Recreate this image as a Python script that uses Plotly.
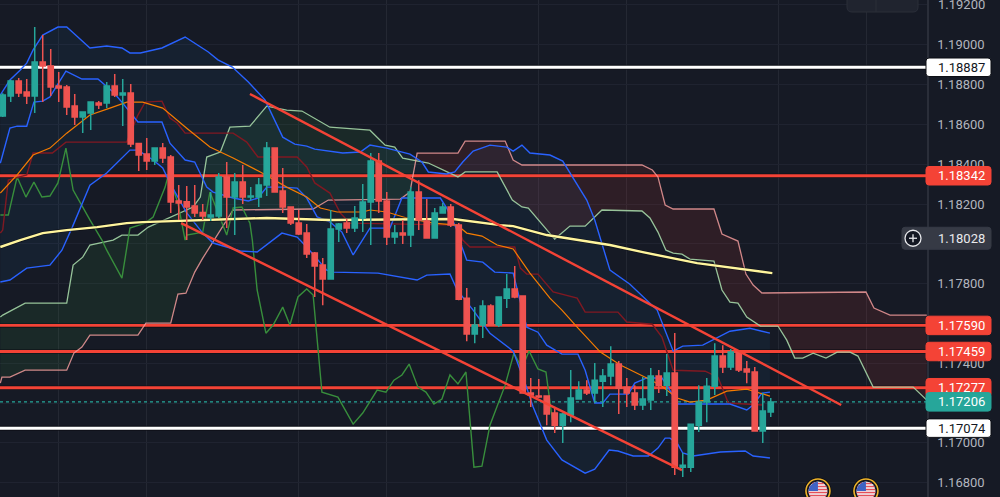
import math
import plotly.graph_objects as go

# ---------- candles (bar index is implicit) ----------
OPEN = [1.18642,1.18743,1.18818,1.18763,1.18743,1.18913,1.18893,1.18793,1.18788,1.18692,
        1.18637,1.18657,1.18707,1.18707,1.18793,1.18748,1.18758,1.18504,1.18451,1.18416,
        1.18481,1.18436,1.18215,1.18212,1.18190,1.18157,1.18135,1.18140,1.18336,1.18235,
        1.18310,1.18235,1.18235,1.18295,1.18481,1.18265,1.18185,1.18104,1.18054,1.17954,
        1.17893,1.17823,1.18074,1.18104,1.18079,1.18130,1.18210,1.18416,1.18215,1.18034,
        1.18054,1.18044,1.18260,1.18115,1.18029,1.18155,1.18185,1.18094,1.17727,1.17547,
        1.17592,1.17687,1.17592,1.17727,1.17773,1.17738,1.17250,1.17235,1.17235,1.17150,
        1.17089,1.17140,1.17220,1.17265,1.17250,1.17310,1.17336,1.17396,1.17280,1.17250,
        1.17190,1.17215,1.17336,1.17290,1.17351,1.16878,1.16878,1.17089,1.17205,1.17285,
        1.17436,1.17381,1.17456,1.17371,1.17356,1.17059,1.17155]
HIGH = [1.18756,1.18823,1.18833,1.18828,1.19089,1.19049,1.18979,1.18863,1.18798,1.18753,
        1.18662,1.18712,1.18717,1.18813,1.18853,1.18828,1.18803,1.18506,1.18532,1.18481,
        1.18506,1.18446,1.18295,1.18290,1.18295,1.18200,1.18260,1.18356,1.18411,1.18356,
        1.18396,1.18285,1.18331,1.18511,1.18481,1.18381,1.18185,1.18170,1.18099,1.17959,
        1.17929,1.18170,1.18104,1.18125,1.18190,1.18300,1.18456,1.18456,1.18260,1.18094,
        1.18120,1.18285,1.18320,1.18225,1.18180,1.18205,1.18200,1.18104,1.17778,1.17682,
        1.17717,1.17697,1.17733,1.17848,1.17888,1.17738,1.17326,1.17321,1.17235,1.17175,
        1.17150,1.17366,1.17310,1.17315,1.17401,1.17371,1.17486,1.17411,1.17326,1.17290,
        1.17331,1.17376,1.17366,1.17446,1.17552,1.16949,1.17094,1.17290,1.17326,1.17501,
        1.17491,1.17471,1.17461,1.17411,1.17381,1.17250,1.17225]
LOW = [1.18637,1.18712,1.18738,1.18702,1.18657,1.18712,1.18743,1.18712,1.18647,1.18597,
       1.18557,1.18572,1.18677,1.18682,1.18738,1.18592,1.18486,1.18366,1.18371,1.18396,
       1.18406,1.18155,1.18120,1.18019,1.18135,1.18120,1.18115,1.18130,1.18079,1.18044,
       1.18200,1.18220,1.18185,1.18240,1.18260,1.18155,1.18094,1.18044,1.17929,1.17733,
       1.17692,1.17823,1.18009,1.18054,1.18059,1.18059,1.17994,1.18155,1.17994,1.17999,
       1.17999,1.17984,1.18069,1.18029,1.18029,1.18155,1.18084,1.17717,1.17511,1.17501,
       1.17527,1.17592,1.17582,1.17677,1.17727,1.17250,1.17180,1.17225,1.17089,1.17049,
       1.16999,1.17104,1.17220,1.17240,1.17200,1.17180,1.17290,1.17145,1.17180,1.17165,
       1.17165,1.17165,1.17250,1.17235,1.16838,1.16828,1.16853,1.17054,1.17104,1.17240,
       1.17351,1.17366,1.17356,1.17300,1.17059,1.16999,1.17130]
CLOSE = [1.18748,1.18818,1.18758,1.18743,1.18913,1.18893,1.18788,1.18783,1.18687,1.18637,
         1.18662,1.18712,1.18697,1.18793,1.18748,1.18758,1.18501,1.18446,1.18416,1.18481,
         1.18431,1.18210,1.18205,1.18185,1.18155,1.18140,1.18145,1.18336,1.18235,1.18310,
         1.18235,1.18240,1.18295,1.18481,1.18260,1.18185,1.18104,1.18049,1.17949,1.17888,
         1.17823,1.18074,1.18099,1.18079,1.18130,1.18210,1.18416,1.18215,1.18034,1.18054,
         1.18044,1.18260,1.18120,1.18029,1.18155,1.18185,1.18094,1.17722,1.17547,1.17592,
         1.17687,1.17592,1.17733,1.17773,1.17733,1.17250,1.17240,1.17230,1.17145,1.17089,
         1.17145,1.17225,1.17265,1.17250,1.17315,1.17336,1.17396,1.17275,1.17250,1.17190,
         1.17220,1.17336,1.17290,1.17351,1.16878,1.16888,1.17094,1.17205,1.17285,1.17436,
         1.17381,1.17456,1.17366,1.17356,1.17059,1.17160,1.17205]

# ---------- indicator lines: bar positions and prices ----------
UPPER_X = [-0.3,0.9,2.2,3.0,3.8,5.0,6.9,8.0,8.7,10.9,13.0,14.9,15.9,17.2,19.9,22.8,25.7,26.9,28.7,30.7,32.8,35.0,36.5,38.0,39.0,42.5,44.7,45.9,48.0,50.9,52.4,53.2,55.5,56.5,57.5,58.8,60.9,63.0,63.8,64.9,65.9,68.4,70.0,73.0,74.0,75.9,78.4,81.8,83.8,85.0,87.5,90.9,93.4,95.9]
UPPER_P = [1.18748,1.18823,1.18873,1.18908,1.18974,1.19049,1.19089,1.19089,1.19064,1.18984,1.18994,1.18984,1.18959,1.18959,1.18984,1.19039,1.18964,1.18924,1.18888,1.18813,1.18722,1.18536,1.18501,1.18491,1.18476,1.18456,1.18461,1.18496,1.18481,1.18451,1.18411,1.18361,1.18351,1.18361,1.18411,1.18466,1.18496,1.18486,1.18466,1.18496,1.18456,1.18446,1.18416,1.18220,1.18120,1.17868,1.17797,1.17667,1.17461,1.17486,1.17491,1.17561,1.17576,1.17551]

MID_X = [-0.3,0.9,1.8,3.0,3.9,5.0,5.9,7.9,9.9,11.9,13.8,15.0,16.9,19.9,20.9,22.8,24.0,25.5,26.3,28.8,30.7,31.9,33.0,34.9,36.8,38.0,39.3,40.9,42.4,43.8,45.9,48.4,49.9,54.7,55.5,56.8,57.4,58.0,60.0,61.5,63.8,64.7,65.5,66.9,68.0,69.9,71.9,72.8,74.0,75.0,75.9,78.2,79.0,80.5,82.4,83.0,84.4,90.9,93.0,93.8,94.9,95.9]
MID_P = [1.18405,1.18581,1.18591,1.18591,1.18712,1.18717,1.18738,1.18868,1.18828,1.18828,1.18763,1.18707,1.18612,1.18612,1.18506,1.18421,1.18411,1.18285,1.18260,1.18230,1.18215,1.18230,1.18285,1.18285,1.18280,1.18230,1.18135,1.18110,1.18059,1.17944,1.18079,1.18079,1.18230,1.18230,1.18180,1.18069,1.17984,1.17918,1.17908,1.17858,1.17853,1.17702,1.17581,1.17556,1.17491,1.17446,1.17446,1.17365,1.17200,1.17200,1.17245,1.17245,1.17300,1.17326,1.17326,1.17290,1.17195,1.17195,1.17165,1.17190,1.17250,1.17255]

LOWER_X = [-0.3,0.9,3.0,5.9,7.4,8.7,10.9,13.0,15.9,16.9,18.8,20.0,20.9,23.0,25.0,26.3,29.7,31.8,34.9,36.8,38.0,40.5,41.3,46.9,51.8,53.0,55.9,56.8,57.8,58.8,60.9,63.8,65.3,66.3,68.0,69.9,72.8,74.0,75.8,76.9,78.8,80.7,81.9,82.8,83.4,84.3,85.0,86.3,89.7,92.8,93.8,95.9]
LOWER_P = [1.17808,1.17818,1.17878,1.17893,1.17968,1.18084,1.18295,1.18356,1.18471,1.18471,1.18421,1.18381,1.18306,1.18155,1.18054,1.18004,1.17964,1.17959,1.18054,1.18034,1.17984,1.17868,1.17858,1.17853,1.17818,1.17843,1.17848,1.17768,1.17717,1.17667,1.17551,1.17461,1.17300,1.17180,1.17014,1.16914,1.16848,1.16868,1.16964,1.16959,1.16934,1.16934,1.16974,1.17024,1.17024,1.16999,1.16949,1.16934,1.16954,1.16959,1.16934,1.16924]

ORANGE_X = [-0.3,1.8,3.8,5.9,8.0,10.9,13.4,15.5,17.5,20.0,23.0,25.9,28.8,32.2,35.5,38.0,39.7,41.8,45.0,45.9,48.0,50.5,53.8,56.8,58.0,59.9,61.8,63.8,65.9,68.4,69.9,71.8,74.7,77.2,80.5,82.2,84.3,85.9,88.0,90.5,93.0,95.9]
ORANGE_P = [1.18255,1.18346,1.18446,1.18481,1.18556,1.18647,1.18682,1.18712,1.18712,1.18682,1.18581,1.18486,1.18431,1.18361,1.18285,1.18235,1.18180,1.18160,1.18160,1.18170,1.18160,1.18130,1.18104,1.18094,1.18054,1.18039,1.17994,1.17974,1.17853,1.17727,1.17667,1.17581,1.17456,1.17391,1.17326,1.17290,1.17225,1.17205,1.17215,1.17260,1.17270,1.17235]

DARKRED_X = [-0.3,0.0,0.7,3.0,3.8,6.2,7.9,15.5,16.9,17.8,19.9,20.9,21.8,22.8,28.8,30.5,31.9,36.8,38.0,39.0,40.9,42.2,43.4,56.8,57.5,58.4,64.0,64.7,65.5,66.9,68.8,71.8,72.8,76.9,78.0,81.2,82.4,83.8,87.8,89.4,90.7,95.0]
DARKRED_P = [1.18054,1.18069,1.18320,1.18346,1.18456,1.18456,1.18511,1.18511,1.18647,1.18712,1.18717,1.18632,1.18607,1.18556,1.18556,1.18511,1.18436,1.18436,1.18386,1.18306,1.18255,1.18155,1.18104,1.18094,1.18019,1.17984,1.17984,1.17878,1.17848,1.17848,1.17758,1.17727,1.17657,1.17657,1.17607,1.17596,1.17531,1.17365,1.17360,1.17330,1.17200,1.17190]

LAG_X = [-0.3,0.7,1.8,2.9,3.9,4.9,5.9,6.9,7.9,8.8,10.9,12.4,13.0,14.9,15.9,17.8,18.8,20.3,20.7,21.9,22.8,23.0,25.0,25.9,28.0,28.8,29.9,30.9,31.2,31.8,32.9,33.8,35.0,35.9,36.9,38.0,38.8,39.9,41.9,43.8,45.0,46.8,47.9,48.9,49.9,50.8,51.9,52.9,53.9,54.9,55.9,56.9,57.9,58.9,59.9,60.9,62.8,63.9,64.9,65.8,66.9,67.9,68.7]
LAG_P = [1.18145,1.18145,1.18336,1.18235,1.18310,1.18235,1.18240,1.18306,1.18481,1.18270,1.18120,1.18019,1.17968,1.17828,1.18079,1.18104,1.18135,1.18285,1.18346,1.18205,1.18019,1.18044,1.18059,1.18260,1.18044,1.18180,1.18185,1.18104,1.18019,1.17768,1.17551,1.17592,1.17682,1.17592,1.17733,1.17773,1.17743,1.17255,1.17230,1.17094,1.17150,1.17265,1.17255,1.17315,1.17341,1.17396,1.17280,1.17255,1.17195,1.17220,1.17341,1.17296,1.17356,1.16878,1.16883,1.17089,1.17290,1.17451,1.17376,1.17461,1.17371,1.17356,1.17115]

SPAN_A_X = [-0.3,0.0,2.8,8.0,8.8,10.0,10.9,13.8,14.9,16.9,18.2,23.8,24.7,25.5,27.2,28.4,30.9,33.0,35.5,37.4,40.9,45.9,47.8,49.0,50.0,53.2,56.9,57.8,61.8,63.7,64.9,65.7,69.0,70.9,72.8,74.9,79.9,80.9,81.9,82.9,83.8,84.9,85.9,88.9,89.9,90.9,91.9,93.0,94.7,96.9,98.0,99.0,100.0,101.3,102.9,104.3,105.9,106.9,108.8,113.8,115.5]
SPAN_A_P = [1.17632,1.17642,1.17702,1.17702,1.17893,1.17933,1.17994,1.18019,1.18044,1.18044,1.18084,1.18185,1.18235,1.18436,1.18461,1.18586,1.18591,1.18692,1.18672,1.18667,1.18586,1.18571,1.18496,1.18486,1.18431,1.18406,1.18336,1.18361,1.18361,1.18220,1.18185,1.18180,1.18024,1.18089,1.18089,1.18170,1.18165,1.18130,1.18059,1.17968,1.17953,1.17948,1.17923,1.17913,1.17768,1.17707,1.17702,1.17632,1.17587,1.17587,1.17516,1.17426,1.17426,1.17451,1.17426,1.17456,1.17456,1.17436,1.17280,1.17280,1.17215]

SPAN_B_X = [-0.3,-0.1,0.9,2.8,8.0,8.9,9.9,10.9,16.9,17.9,21.0,21.9,22.9,24.0,25.0,26.8,28.8,38.8,40.7,49.7,50.9,51.8,56.9,57.8,62.8,63.8,64.9,79.9,81.2,81.9,82.8,83.8,88.9,89.9,91.9,92.9,93.8,94.9,107.9,108.9,110.9,115.5]
SPAN_B_P = [1.17300,1.17330,1.17330,1.17365,1.17365,1.17451,1.17481,1.17541,1.17541,1.17602,1.17602,1.17747,1.17752,1.17858,1.17928,1.18044,1.18170,1.18175,1.18220,1.18225,1.18260,1.18456,1.18456,1.18516,1.18516,1.18421,1.18396,1.18396,1.18371,1.18336,1.18195,1.18175,1.18175,1.18049,1.18014,1.17848,1.17793,1.17753,1.17758,1.17677,1.17642,1.17642]
CLOUD_CROSS_X = 51.7
CLOUD_CROSS_P = 1.18426

SLOW_X = [-0.3,2.2,5.0,8.0,11.8,15.5,17.5,21.3,26.3,33.0,40.9,56.3,62.2,63.8,68.0,73.8,75.9,80.0,86.8,96.2]
SLOW_P = [1.17984,1.18019,1.18054,1.18069,1.18084,1.18104,1.18109,1.18114,1.18120,1.18130,1.18120,1.18125,1.18094,1.18089,1.18044,1.18009,1.17994,1.17958,1.17903,1.17853]

TREND_LINES = [((30.9, 1.18753), (104.8, 1.17190)),
               ((22.3, 1.18104), (65.3, 1.17250)),
               ((65.3, 1.17250), (84.9, 1.16863))]

RED_LEVELS = [1.18342, 1.17590, 1.17459, 1.17277]
WHITE_LEVELS = [1.18887, 1.17074]
LAST_PRICE = 1.17206
CROSSHAIR_PRICE = 1.18028
FLAG_BARS = [101.9, 107.9]
FLAG_PRICE = 1.16758

TICKS = [1.168,1.170,1.172,1.174,1.176,1.178,1.180,1.182,1.184,1.186,1.188,1.190,1.192]
TICKS_UNDER_BADGES = [1.172, 1.176, 1.180]
TOP_TICK = 1.192
GRID_BARS = [7,18,37,48,67,78,97,108]
X_RANGE = [-0.34, 115.53]
Y_RANGE = [1.16728, 1.19225]

BG = "#161a25"
RED = "#f44336"
FONT = "Roboto"

fig = go.Figure()


def poly(xa, ya, xb, yb, color):
    fig.add_trace(go.Scatter(x=list(xa)+list(xb)[::-1], y=list(ya)+list(yb)[::-1],
                             mode="lines", fill="toself", fillcolor=color,
                             line=dict(width=0), hoverinfo="skip", showlegend=False))


def line(x, y, color, width, xaxis="x", yaxis="y", dash=None, opacity=1):
    fig.add_trace(go.Scatter(x=x, y=y, mode="lines", xaxis=xaxis, yaxis=yaxis, opacity=opacity,
                             line=dict(color=color, width=width, dash=dash), hoverinfo="skip",
                             showlegend=False))


# band fill
poly(UPPER_X, UPPER_P, LOWER_X, LOWER_P, "rgba(33,150,243,0.06)")

# cloud fill, split at the crossing
a_l = [i for i, v in enumerate(SPAN_A_X) if v < CLOUD_CROSS_X]
a_r = [i for i, v in enumerate(SPAN_A_X) if v > CLOUD_CROSS_X]
b_l = [i for i, v in enumerate(SPAN_B_X) if v < CLOUD_CROSS_X]
b_r = [i for i, v in enumerate(SPAN_B_X) if v > CLOUD_CROSS_X]
poly([SPAN_A_X[i] for i in a_l]+[CLOUD_CROSS_X], [SPAN_A_P[i] for i in a_l]+[CLOUD_CROSS_P],
     [SPAN_B_X[i] for i in b_l], [SPAN_B_P[i] for i in b_l], "rgba(67,160,71,0.11)")
poly([CLOUD_CROSS_X]+[SPAN_B_X[i] for i in b_r], [CLOUD_CROSS_P]+[SPAN_B_P[i] for i in b_r],
     [SPAN_A_X[i] for i in a_r], [SPAN_A_P[i] for i in a_r], "rgba(244,67,54,0.11)")

# horizontal levels
for lv in RED_LEVELS:
    line(X_RANGE, [lv, lv], "#0c0e14", 4.6, opacity=0.7)
    line(X_RANGE, [lv, lv], RED, 2.8)
for lv in WHITE_LEVELS:
    line(X_RANGE, [lv, lv], "#0c0e14", 5, opacity=0.8)
    line(X_RANGE, [lv, lv], "#ffffff", 3)
line(X_RANGE, [LAST_PRICE, LAST_PRICE], "#26a69a", 1.3, dash="dot")

# indicators
line(SPAN_A_X, SPAN_A_P, "#a5d6a7", 1.3, opacity=0.9)
line(SPAN_B_X, SPAN_B_P, "#ef9a9a", 1.3, opacity=0.85)
line(LAG_X, LAG_P, "#388e3c", 1.4)
line(DARKRED_X, DARKRED_P, "#801922", 1.4)
line(UPPER_X, UPPER_P, "#2962ff", 1.4)
line(MID_X, MID_P, "#2962ff", 1.4)
line(LOWER_X, LOWER_P, "#2962ff", 1.4)
line(ORANGE_X, ORANGE_P, "#f57c00", 1.2)
line(SLOW_X, SLOW_P, "#0c0e14", 3.6, opacity=0.7)
line(SLOW_X, SLOW_P, "#fff59d", 2.4)

# candles sit above the indicators, on an overlaid pair of axes
fig.add_trace(go.Candlestick(
    x=list(range(len(OPEN))), open=OPEN, high=HIGH, low=LOW, close=CLOSE,
    xaxis="x2", yaxis="y2", showlegend=False, hoverinfo="skip",
    increasing=dict(line=dict(color="#26a69a", width=1.5), fillcolor="#26a69a"),
    decreasing=dict(line=dict(color="#ef5350", width=1.5), fillcolor="#ef5350")))

for (p0, p1) in TREND_LINES:
    line([p0[0], p1[0]], [p0[1], p1[1]], RED, 2.4, xaxis="x2", yaxis="y2")

shapes = []


def round_rect(x0, x1, h, r=3):
    t, b = h / 2, -h / 2
    return (f"M{x0+r},{t} L{x1-r},{t} Q{x1},{t} {x1},{t-r} L{x1},{b+r} Q{x1},{b} {x1-r},{b} "
            f"L{x0+r},{b} Q{x0},{b} {x0},{b+r} L{x0},{t-r} Q{x0},{t} {x0+r},{t} Z")


annots = []


def badge(price, text, fill, fg, x0=-1, x1=64, h=18.5, outline=None):
    shapes.append(dict(type="path", xref="paper", yref="y", xsizemode="pixel", ysizemode="pixel",
                       xanchor=1, yanchor=price, path=round_rect(x0, x1, h),
                       fillcolor=fill, line=dict(color=outline or fill, width=1), layer="above"))
    annots.append(dict(xref="paper", yref="y", x=1, y=price, xanchor="left", yanchor="middle",
                       xshift=9, text=text, showarrow=False,
                       font=dict(family=FONT, size=13, color=fg)))


for lv in RED_LEVELS:
    badge(lv, f"{lv:.5f}", RED, "#ffffff")
badge(LAST_PRICE, f"{LAST_PRICE:.5f}", "#26a69a", "#ffffff")
for lv in WHITE_LEVELS:
    badge(lv, f"{lv:.5f}", "#ffffff", "#131722", outline="#0c0e14")
badge(CROSSHAIR_PRICE, f"{CROSSHAIR_PRICE:.5f}", "#363a45", "#e8e9ec", x0=-25, h=22)

# the top tick sits too near the edge for the axis to print it
annots.append(dict(xref="paper", yref="y", x=1, y=TOP_TICK, xanchor="left", yanchor="middle",
                   xshift=9, text=f"{TOP_TICK:.5f}", showarrow=False,
                   font=dict(family=FONT, size=13, color="#b2b5be")))

# plus button on the crosshair label
shapes.append(dict(type="circle", xref="paper", yref="y", xsizemode="pixel", ysizemode="pixel",
                   xanchor=1, yanchor=CROSSHAIR_PRICE, x0=-22, x1=-6, y0=-8, y1=8,
                   fillcolor="#131722", line=dict(color="#e8e9ec", width=1.3), layer="above"))
for path in ("M-18,0 L-10,0", "M-14,-4 L-14,4"):
    shapes.append(dict(type="path", xref="paper", yref="y", xsizemode="pixel", ysizemode="pixel",
                       xanchor=1, yanchor=CROSSHAIR_PRICE, path=path,
                       line=dict(color="#e8e9ec", width=1.3), layer="above"))

# top-right toolbar stub
shapes.append(dict(type="path", xref="paper", yref="paper", xsizemode="pixel", ysizemode="pixel",
                   xanchor=1, yanchor=1, path="M-80,8 L-9,8 L-9,-7 Q-9,-12 -14,-12 L-75,-12 Q-80,-12 -80,-7 Z",
                   fillcolor="#20242f", line=dict(color="#2a2e39", width=1), layer="above"))
shapes.append(dict(type="path", xref="paper", yref="paper", xsizemode="pixel", ysizemode="pixel",
                   xanchor=1, yanchor=1, path="M-51,0 L-51,-12", line=dict(color="#2a2e39", width=1),
                   layer="above"))

# event flags
for bar in FLAG_BARS:
    common = dict(xref="x", yref="y", xsizemode="pixel", ysizemode="pixel", xanchor=bar,
                  yanchor=FLAG_PRICE, layer="above")
    shapes.append(dict(type="circle", x0=-13.5, x1=13.5, y0=-13.5, y1=13.5,
                       fillcolor="#0c0e14", line=dict(width=0), **common))
    shapes.append(dict(type="circle", x0=-12, x1=12, y0=-12, y1=12,
                       fillcolor="#131722", line=dict(color="#f0b429", width=1.6), **common))
    shapes.append(dict(type="circle", x0=-9.5, x1=9.5, y0=-9.5, y1=9.5,
                       fillcolor="#f3f4f6", line=dict(width=0), **common))
    for dy in (7.5, 4.5, 1.5, -1.5, -4.5, -7.5):
        hw = math.sqrt(max(0, 9.5 ** 2 - dy ** 2))
        shapes.append(dict(type="path", path=f"M{-hw},{dy} L{hw},{dy}",
                           line=dict(color="#e5505a", width=1.5), **common))
    shapes.append(dict(type="path", path="M-9.3,0 L0,0 L0,9.5 Q-7,8.5 -9.3,2 Z",
                       fillcolor="#3f63c4", line=dict(width=0), **common))

tick_text = ["" if t in TICKS_UNDER_BADGES else f"{t:.5f}" for t in TICKS]

fig.update_layout(
    width=1000, height=497, autosize=False,
    margin=dict(l=0, r=73, t=0, b=0, pad=0),
    paper_bgcolor=BG, plot_bgcolor=BG,
    showlegend=False, hovermode=False, boxgap=0.35, boxgroupgap=0,
    font=dict(family=FONT, size=13, color="#b2b5be"),
    shapes=shapes, annotations=annots,
    xaxis=dict(range=X_RANGE, tickvals=GRID_BARS, showticklabels=False, ticks="",
               showgrid=True, gridcolor="#242833", gridwidth=1, zeroline=False, showline=False,
               fixedrange=True),
    yaxis=dict(range=Y_RANGE, side="right", tickvals=TICKS, ticktext=tick_text,
               ticks="outside", ticklen=6, tickcolor="rgba(0,0,0,0)",
               showgrid=True, gridcolor="#1f2330", gridwidth=1, zeroline=False,
               showline=True, linecolor="#2a2e39", linewidth=1.5, fixedrange=True,
               tickfont=dict(family=FONT, size=13, color="#b2b5be")),
    xaxis2=dict(range=X_RANGE, overlaying="x", visible=False, rangeslider=dict(visible=False),
                fixedrange=True),
    yaxis2=dict(range=Y_RANGE, overlaying="y", visible=False, fixedrange=True),
)

fig.write_html("out.html", config=dict(displayModeBar=False),
               post_script="document.body.style.margin='0';document.body.style.background='%s';" % BG)
